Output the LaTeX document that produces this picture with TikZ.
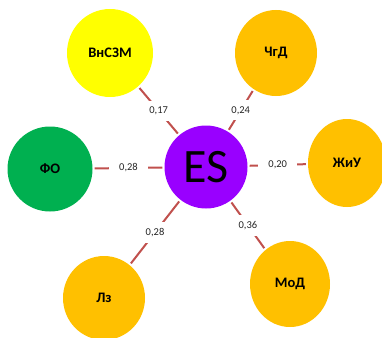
\documentclass[tikz,border=0pt]{standalone}
\usepackage{fontspec}
\setmainfont{Carlito}
\usetikzlibrary{shapes,positioning}
\definecolor{linkred}{HTML}{C0504D}
\definecolor{amber}{HTML}{FFC000}
\definecolor{lemon}{HTML}{FFFF00}
\definecolor{leaf}{HTML}{00B050}
\definecolor{violet}{HTML}{9900FF}

\begin{document}
\begin{tikzpicture}[x=1pt,y=-1pt]
        \tikzstyle{factor} = [ellipse, fill=amber, inner sep=0pt, minimum width=82pt, minimum height=86pt, font=\bfseries\fontsize{14.5}{16}\selectfont]
        \tikzstyle{link} = [draw=linkred, line width=2pt, shorten <=2pt, shorten >=2pt]
        \tikzstyle{weight} = [fill=white, inner xsep=10pt, inner ysep=6pt, text=black!85, font=\fontsize{10.5}{12}\selectfont]
        \useasboundingbox (0,0) rectangle (382,337);

        \node[circle, fill=violet, minimum size=83pt, inner sep=0pt, font=\fontsize{48}{50}\selectfont] (es) at (206,167) {ES};
        \node[factor, fill=lemon, minimum width=86pt, minimum height=88pt] (vnszm) at (110,53) {ВнСЗМ};
        \node[factor] (chgd) at (276,53) {ЧгД};
        \node[factor, minimum width=78pt, minimum height=88pt] (zhiu) at (347,163) {ЖиУ};
        \node[factor, fill=leaf, minimum width=85pt, minimum height=85pt] (fo) at (50,169) {ФО};
        \node[factor, minimum height=84pt] (lz) at (104,298) {Лз};
        \node[factor, minimum width=80pt] (mod) at (290,284) {МоД};

        \draw[link] (es) -- node[weight] {0,17} (vnszm);
        \draw[link] (es) -- node[weight] {0,24} (chgd);
        \draw[link] (es) -- node[weight] {0,20} (zhiu);
        \draw[link] (es) -- node[weight] {0,28} (fo);
        \draw[link] (es) -- node[weight] {0,28} (lz);
        \draw[link] (es) -- node[weight] {0,36} (mod);
\end{tikzpicture}
\end{document}
